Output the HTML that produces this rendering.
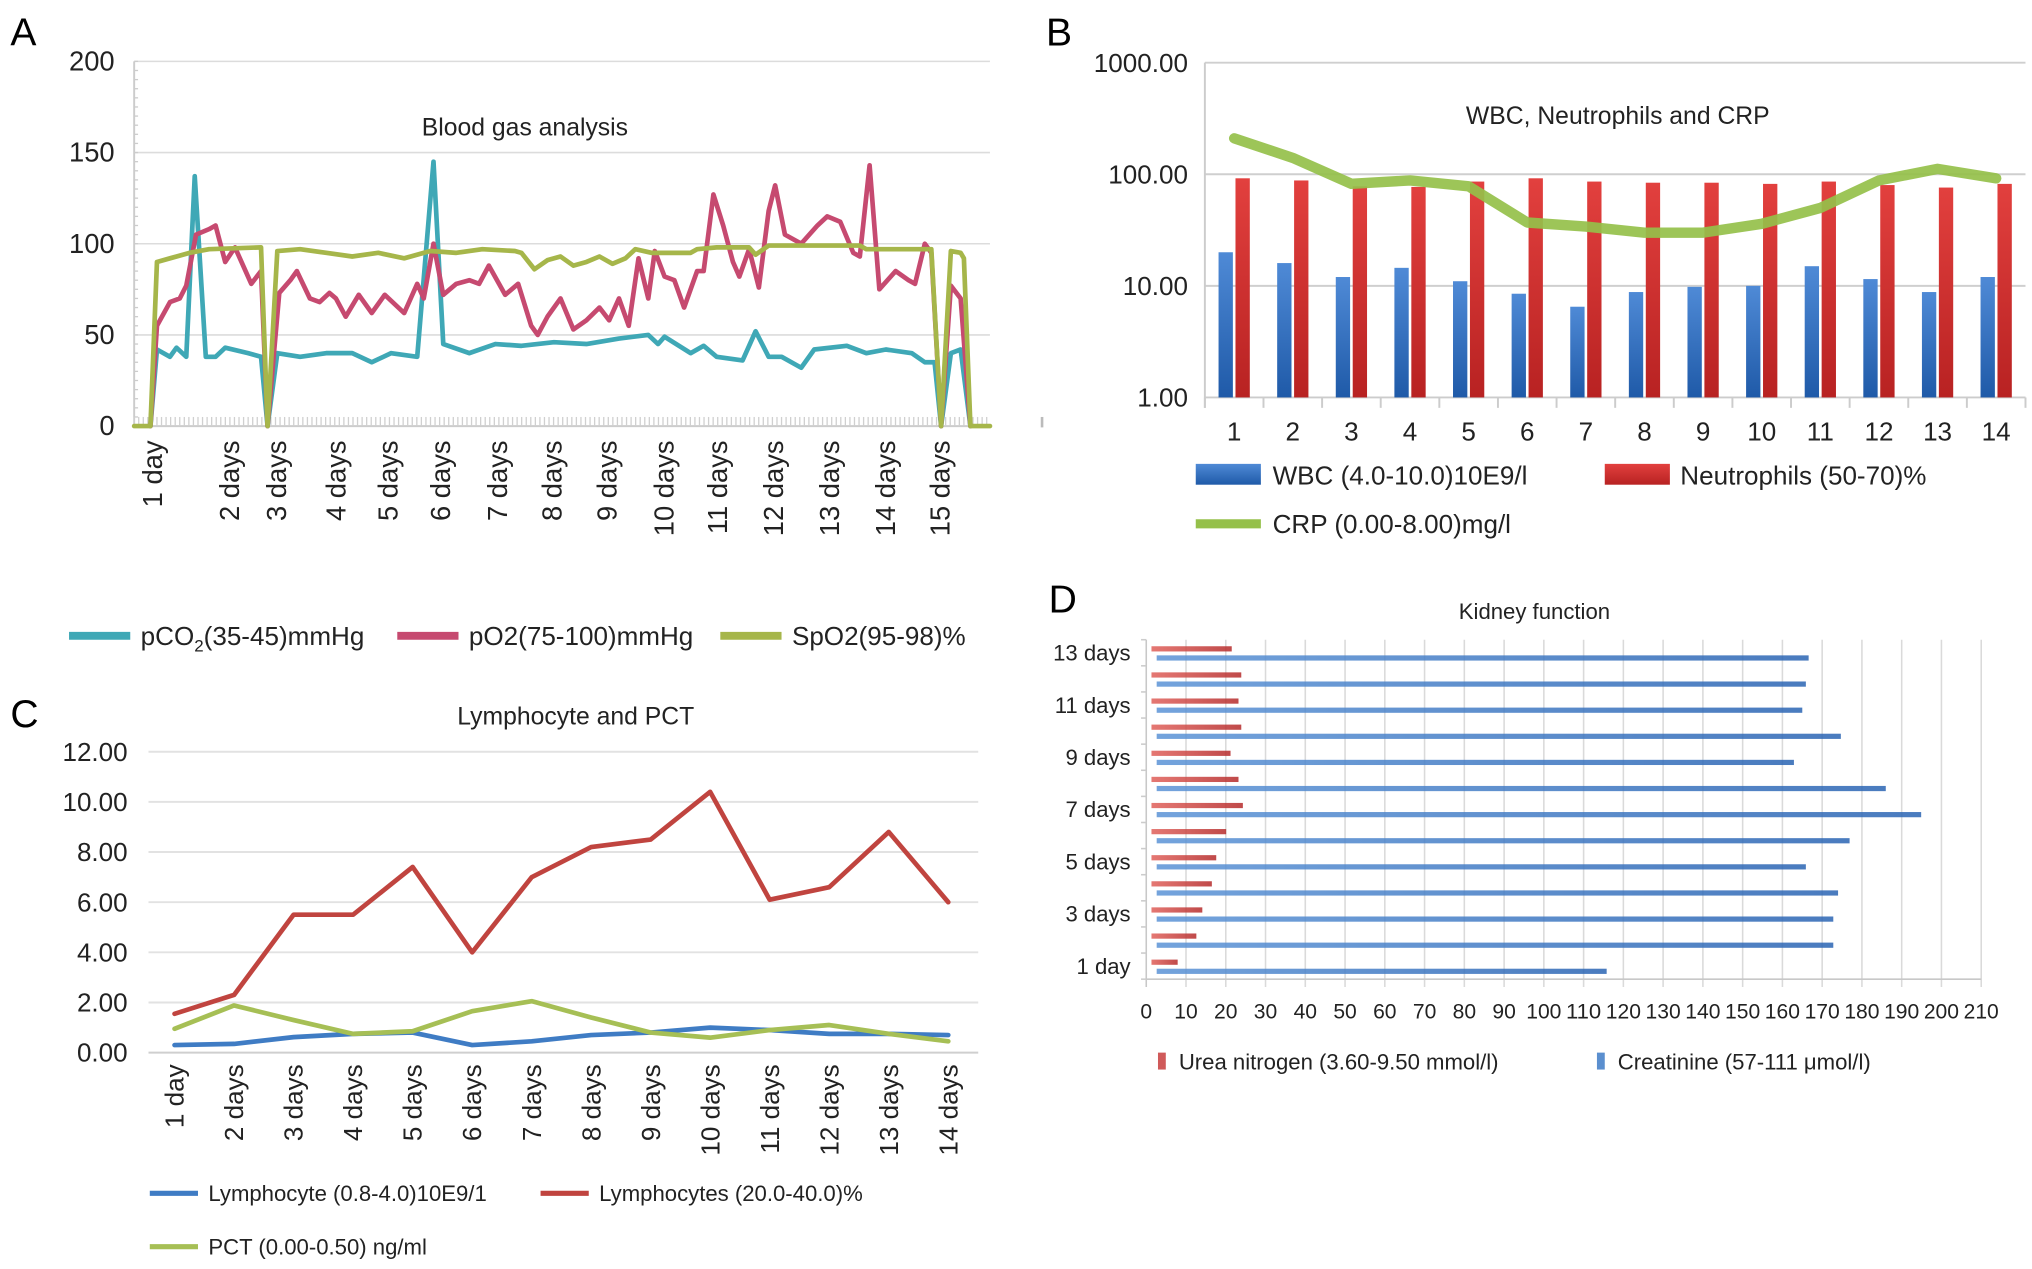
<!DOCTYPE html>
<html><head><meta charset="utf-8"><style>
html,body{margin:0;padding:0;background:#fff;}
svg{display:block;font-family:"Liberation Sans",Arial,sans-serif;}
</style></head><body>
<svg id="fig" width="2032" height="1269" viewBox="0 0 1560 974" xmlns="http://www.w3.org/2000/svg">
<rect width="1560" height="974" fill="#fff"/>
<text x="8" y="35" font-size="30">A</text>
<text x="803" y="35" font-size="30">B</text>
<text x="8" y="558" font-size="30">C</text>
<text x="805" y="470" font-size="30">D</text>
<g id="pa"></g>
<g id="pb"></g>
<g id="pc"></g>
<g id="pd"></g>
</svg>
<script>
// ---------- Panel A data ----------
const aTicks=[0,50,100,150,200];
const aDayLabels=["1 day","2 days","3 days","4 days","5 days","6 days","7 days","8 days","9 days","10 days","11 days","12 days","13 days","14 days","15 days"];
const aDayPos=[2.9,14.7,21.9,31.1,39.1,47.1,55.9,64.3,72.7,81.5,89.7,98.3,106.9,115.5,123.9];
const spo2T=[0,2.5,3.5,5.5,8.5,11.5,19.5,20.5,22,25.5,29.5,33.5,37.5,41.5,45.5,49.5,53.5,58.5,59.5,61.5,63.5,65.5,67.5,69.5,71.5,73.5,75.5,77,79.5,85.5,86.5,89.5,94.5,95.5,97.5,111.5,112.5,122.5,124,125.5,127,127.5,128.5,131.5];
const spo2V=[0,0,90,92,95,97,98,0,96,97,95,93,95,92,96,95,97,96,95,86,91,93,88,90,93,89,92,97,95,95,97,98,98,94,99,99,97,97,0,96,95,92,0,0];
const po2T=[2.5,3.5,5.5,7,8,9.5,11.5,12.5,14,15.5,18,19.5,20.5,22.3,24,25,27,28.5,30,31,32.5,34.5,36.5,38.5,41.5,43.5,44.5,46,47.5,49.5,51.5,53,54.5,57,59,61,62,63.5,65.5,67.5,69.5,71.5,73,74.5,76,77.5,79,80,81.5,83,84.5,86.5,87.5,89,90.5,92,93,94.5,96,97.5,98.5,100,102.5,105,106.5,108.5,110.5,111.5,113,114.5,117,119,120,121.5,122.5,124,125.5,127,128.5];
const po2V=[0,55,68,70,77,105,108,110,90,98,78,85,0,73,80,85,70,68,73,70,60,72,62,72,62,78,70,100,72,78,80,78,88,72,78,55,50,60,70,53,58,65,58,70,55,92,70,96,82,80,65,85,85,127,110,90,82,97,76,118,132,105,100,110,115,112,95,93,143,75,85,80,78,100,95,0,77,70,0];
const pco2T=[2.5,3.5,5.5,6.5,8,9.3,11,12.5,14,17.5,19.5,20.5,22,25.5,29.5,33.5,36.5,39.5,43.5,46,47.5,51.5,55.5,59.5,64.5,69.5,74.5,79,80.5,81.5,85.5,87.5,89.5,93.5,95.5,97.5,99.5,102.5,104.5,109.5,112.5,115.5,119.5,121.5,123,124,125.5,127,128.5];
const pco2V=[0,42,38,43,38,137,38,38,43,40,38,0,40,38,40,40,35,40,38,145,45,40,45,44,46,45,48,50,45,49,40,44,38,36,52,38,38,32,42,44,40,42,40,35,35,0,40,42,0];
// ---------- Panel B data ----------
const bCats=["1","2","3","4","5","6","7","8","9","10","11","12","13","14"];
const wbc=[20,16,12,14.5,11,8.5,6.5,8.8,9.8,10,15,11.5,8.8,12];
const neut=[92,88,78,77,86,92,86,84,84,82,86,80,76,82];
const crp=[210,140,82,88,78,37,34,30,30,36,50,88,112,92];
const bTicks=[1,10,100,1000];
// ---------- Panel C data ----------
const cCats=["1 day","2 days","3 days","4 days","5 days","6 days","7 days","8 days","9 days","10 days","11 days","12 days","13 days","14 days"];
const lymAbs=[0.3,0.35,0.62,0.75,0.8,0.3,0.45,0.7,0.8,1.0,0.9,0.75,0.75,0.7];
const lymPct=[1.55,2.3,5.5,5.5,7.4,4.0,7.0,8.2,8.5,10.4,6.1,6.6,8.8,6.0];
const pct=[0.95,1.88,1.3,0.75,0.85,1.65,2.05,1.4,0.8,0.6,0.9,1.1,0.75,0.45];
const cTicks=[0,2,4,6,8,10,12];
// ---------- Panel D data ----------
const dCats=["1 day","2 days","3 days","4 days","5 days","6 days","7 days","8 days","9 days","10 days","11 days","12 days","13 days"];
const urea=[7.9,12.6,14.1,16.5,17.6,20.1,24.3,23.2,21.2,23.9,23.2,23.9,21.5];
const creat=[115.8,172.8,172.8,174,165.9,176.9,194.9,186,162.9,174.7,165,165.9,166.6];
const dTicks=[0,10,20,30,40,50,60,70,80,90,100,110,120,130,140,150,160,170,180,190,200,210];

const NS="http://www.w3.org/2000/svg";
function mk(parent,tag,attrs,txt){const e=document.createElementNS(NS,tag);for(const k in attrs)e.setAttribute(k,attrs[k]);if(txt!==undefined)e.textContent=txt;parent.appendChild(e);return e;}
const svg=document.getElementById('fig');
const defs=mk(svg,'defs',{});
function grad(id,c1,c2){const g=mk(defs,'linearGradient',{id:id,x1:'0',x2:'1',y1:'0',y2:'0'});mk(g,'stop',{offset:'0','stop-color':c1});mk(g,'stop',{offset:'1','stop-color':c2});}
grad('gBlue','#5b93d6','#2a64b3');grad('gRed','#e0605a','#b52a2a');
const gv=mk(defs,'linearGradient',{id:'gvBlue',x1:'0',x2:'0',y1:'0',y2:'1'});mk(gv,'stop',{offset:'0','stop-color':'#4f8ad6'});mk(gv,'stop',{offset:'1','stop-color':'#1f5aa8'});
const gr=mk(defs,'linearGradient',{id:'gvRed',x1:'0',x2:'0',y1:'0',y2:'1'});mk(gr,'stop',{offset:'0','stop-color':'#e2403e'});mk(gr,'stop',{offset:'1','stop-color':'#b82222'});

// ===== Panel A =====
(function(){
const g=document.getElementById('pa');
const x0=103,x1=760,y0=327,y1=47;
const xs=t=>x0+t*(x1-x0)/131.5;
const ys=v=>y0-(v/200)*(y0-y1);
aTicks.forEach(v=>{
 if(v>0){const l=mk(g,'line',{x1:x0,x2:x1,y1:ys(v),y2:ys(v),stroke:'#dcdcdc','stroke-width':1.2});
 }
 const t=mk(g,'text',{x:88,y:ys(v)+7,'font-size':21,'text-anchor':'end',fill:'#222'},String(v));
 
});
mk(g,'line',{x1:x0,x2:x0,y1:y1,y2:y0,stroke:'#ccc','stroke-width':1.5});
for(let i=0;i<=40;i++){mk(g,'line',{x1:x0,x2:x0+3,y1:y1+i*7,y2:y1+i*7,stroke:'#ccc','stroke-width':1});}
mk(g,'line',{x1:x0,x2:x1,y1:y0,y2:y0,stroke:'#ccc','stroke-width':1.5});
for(let x=x0;x<=x1;x+=3.5){mk(g,'line',{x1:x,x2:x,y1:y0-7,y2:y0,stroke:'#d0d0d0','stroke-width':1});}
mk(g,'line',{x1:800,x2:800,y1:320,y2:328,stroke:'#bbb','stroke-width':2});
const tt=mk(g,'text',{x:403,y:104,'font-size':19,'text-anchor':'middle',fill:'#222'},'Blood gas analysis');

aDayLabels.forEach((s,i)=>{const x=xs(aDayPos[i]);
 const t=mk(g,'text',{x:0,y:0,'font-size':21,'text-anchor':'end',fill:'#222',transform:`translate(${x+7},338) rotate(-90)`},s);
 });
function line(T,V,col,name){const pts=T.map((t,i)=>xs(t).toFixed(1)+','+ys(V[i]).toFixed(1)).join(' ');
 const p=mk(g,'polyline',{points:pts,fill:'none',stroke:col,'stroke-width':3.6,'stroke-linejoin':'round','stroke-linecap':'round'});
 }
line(pco2T,pco2V,'#3fa8b6','pco2-line');
line(po2T,po2V,'#c64a70','po2-line');
line(spo2T,spo2V,'#a6b64a','spo2-line');
const leg=[[53,'#3fa8b6','pCO','leg-pco2'],[305,'#c64a70','pO2(75-100)mmHg','leg-po2'],[553,'#a6b64a','SpO2(95-98)%','leg-spo2']];
leg.forEach(([x,c,s,n])=>{const e=mk(g,'g',{});
 mk(e,'line',{x1:x,x2:x+47,y1:488,y2:488,stroke:c,'stroke-width':6});
 const t=mk(e,'text',{x:x+55,y:495,'font-size':20,fill:'#222'},s);
 if(n==='leg-pco2'){mk(t,'tspan',{'font-size':13,dy:5},'2');mk(t,'tspan',{dy:-5},'(35-45)mmHg');}
});
})();

// ===== Panel B =====
(function(){
const g=document.getElementById('pb');
const x0=925,x1=1555,y0=305,y1=48;
const bw=(x1-x0)/bCats.length;
const cx=i=>x0+bw*(i+0.5);
const ys=v=>y0-(Math.log10(v)/3)*(y0-y1);
bTicks.forEach(v=>{
 if(v>1){const l=mk(g,'line',{x1:x0,x2:x1,y1:ys(v),y2:ys(v),stroke:'#cfcfcf','stroke-width':1.5});
 }
 const t=mk(g,'text',{x:912,y:ys(v)+7,'font-size':20,'text-anchor':'end',fill:'#222'},v.toFixed(2));
 });
mk(g,'line',{x1:x0,x2:x0,y1:y1,y2:y0+8,stroke:'#ccc','stroke-width':1.5});
mk(g,'line',{x1:x0,x2:x1,y1:y0,y2:y0,stroke:'#ccc','stroke-width':1.5});
for(let i=0;i<=bCats.length;i++)mk(g,'line',{x1:x0+bw*i,x2:x0+bw*i,y1:y0,y2:y0+8,stroke:'#ccc','stroke-width':1.5});
const tt=mk(g,'text',{x:1242,y:95,'font-size':19,'text-anchor':'middle',fill:'#222'},'WBC, Neutrophils and CRP');

bCats.forEach((s,i)=>{
 const b=mk(g,'rect',{x:cx(i)-12,y:ys(wbc[i]),width:11,height:y0-ys(wbc[i]),fill:'url(#gvBlue)'});
 
 const r=mk(g,'rect',{x:cx(i)+1,y:ys(neut[i]),width:11,height:y0-ys(neut[i]),fill:'url(#gvRed)'});
 
 const t=mk(g,'text',{x:cx(i),y:338,'font-size':20,'text-anchor':'middle',fill:'#222'},s);
 });
const pts=crp.map((v,i)=>cx(i).toFixed(1)+','+ys(v).toFixed(1)).join(' ');
const p=mk(g,'polyline',{points:pts,fill:'none',stroke:'#95c04a','stroke-width':8,'stroke-linejoin':'round','stroke-linecap':'round',opacity:0.92});

const l1=mk(g,'g',{});
mk(l1,'rect',{x:918,y:356,width:50,height:16,fill:'url(#gvBlue)'});mk(l1,'text',{x:977,y:372,'font-size':20,fill:'#222'},'WBC (4.0-10.0)10E9/l');
const l2=mk(g,'g',{});
mk(l2,'rect',{x:1232,y:356,width:50,height:16,fill:'url(#gvRed)'});mk(l2,'text',{x:1290,y:372,'font-size':20,fill:'#222'},'Neutrophils (50-70)%');
const l3=mk(g,'g',{});
mk(l3,'line',{x1:918,x2:968,y1:402,y2:402,stroke:'#95c04a','stroke-width':7});mk(l3,'text',{x:977,y:409,'font-size':20,fill:'#222'},'CRP (0.00-8.00)mg/l');
})();

// ===== Panel C =====
(function(){
const g=document.getElementById('pc');
const x0=114,x1=751,y0=808,y1=577;
const step=(728-134)/13;
const cx=i=>134+step*i;
const ys=v=>y0-(v/12)*(y0-y1);
cTicks.forEach(v=>{
 const l=mk(g,'line',{x1:x0,x2:x1,y1:ys(v),y2:ys(v),stroke:v===0?'#cfcfcf':'#e2e2e2','stroke-width':1.5});
 
 const t=mk(g,'text',{x:98,y:ys(v)+7,'font-size':20,'text-anchor':'end',fill:'#222'},v.toFixed(2));
 });
const tt=mk(g,'text',{x:442,y:556,'font-size':19,'text-anchor':'middle',fill:'#222'},'Lymphocyte and PCT');

cCats.forEach((s,i)=>{const t=mk(g,'text',{x:0,y:0,'font-size':20,'text-anchor':'end',fill:'#222',transform:`translate(${cx(i)+7},817) rotate(-90)`},s);
 });
function line(V,col,name){const pts=V.map((v,i)=>cx(i).toFixed(1)+','+ys(v).toFixed(1)).join(' ');
 const p=mk(g,'polyline',{points:pts,fill:'none',stroke:col,'stroke-width':3.6,'stroke-linejoin':'round','stroke-linecap':'round'});
 }
line(lymAbs,'#3f7cc4','lymphocyte-abs-line');
line(lymPct,'#c0443f','lymphocyte-pct-line');
line(pct,'#a6bf55','pct-line');
[[115,916,'#3f7cc4','Lymphocyte (0.8-4.0)10E9/1','legend-lymphocyte-abs'],[415,916,'#c0443f','Lymphocytes (20.0-40.0)%','legend-lymphocyte-pct'],[115,957,'#a6bf55','PCT (0.00-0.50) ng/ml','legend-pct']].forEach(([x,y,c,s,n])=>{
 const e=mk(g,'g',{});
 mk(e,'line',{x1:x,x2:x+37,y1:y,y2:y,stroke:c,'stroke-width':4});
 mk(e,'text',{x:x+45,y:y+6,'font-size':17,fill:'#222'},s);});
})();

// ===== Panel D =====
(function(){
const g=document.getElementById('pd');
const x0=880,x1=1521,y0=751.6,y1=491;
const xs=v=>x0+(v/210)*(x1-x0);
const rh=(y0-y1)/dCats.length;
const cy=i=>y0-rh*(i+0.5);
dTicks.forEach(v=>{
 const l=mk(g,'line',{x1:xs(v),x2:xs(v),y1:y1,y2:y0+6,stroke:v===0?'#c8c8c8':'#dadada','stroke-width':1.2});
 
 const t=mk(g,'text',{x:xs(v),y:782,'font-size':16,'text-anchor':'middle',fill:'#222',textLength:v>=100?27:(v>0?18:9),lengthAdjust:'spacingAndGlyphs'},String(v));
 });
mk(g,'line',{x1:x0,x2:x1,y1:y0,y2:y0,stroke:'#c8c8c8','stroke-width':1.2});
for(let i=0;i<=dCats.length;i++)mk(g,'line',{x1:x0-4,x2:x0,y1:y0-rh*i,y2:y0-rh*i,stroke:'#ccc','stroke-width':1.2});
const tt=mk(g,'text',{x:1178,y:475,'font-size':17,'text-anchor':'middle',fill:'#222'},'Kidney function');

dCats.forEach((s,i)=>{
 if(i%2===0){const t=mk(g,'text',{x:868,y:cy(i)+6,'font-size':17,'text-anchor':'end',fill:'#222'},s);
 }
 const c=mk(g,'rect',{x:xs(0)+8,y:cy(i)+2,width:xs(creat[i])-xs(0)-8,height:4,fill:'url(#gBlue)',opacity:0.85});
 
 const u=mk(g,'rect',{x:xs(0)+4,y:cy(i)-5,width:xs(urea[i])-xs(0)-4,height:4,fill:'url(#gRed)',opacity:0.85});
 });
const l1=mk(g,'g',{});
mk(l1,'rect',{x:889,y:808,width:6,height:13,fill:'#d05a5a'});mk(l1,'text',{x:905,y:821,'font-size':17,fill:'#222'},'Urea nitrogen (3.60-9.50 mmol/l)');
const l2=mk(g,'g',{});
mk(l2,'rect',{x:1226,y:808,width:6,height:13,fill:'#5b8fcf'});mk(l2,'text',{x:1242,y:821,'font-size':17,fill:'#222'},'Creatinine (57-111 \u03bcmol/l)');
})();
</script>
</body></html>
